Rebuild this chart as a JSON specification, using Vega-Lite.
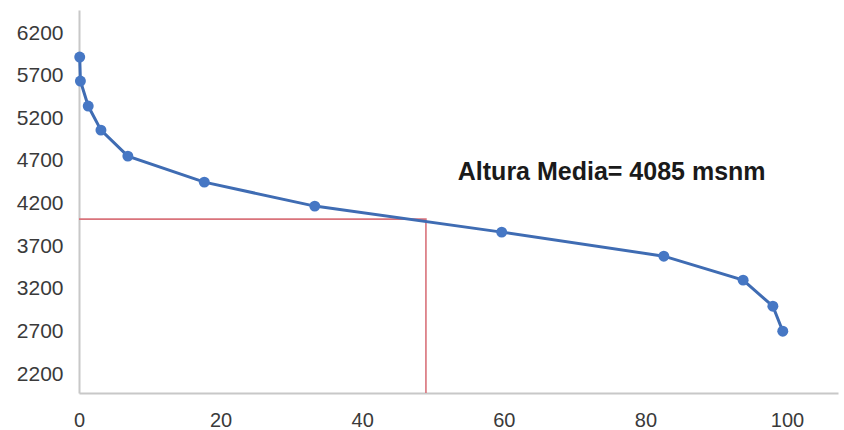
{
  "$schema": "https://vega.github.io/schema/vega-lite/v6.json",
  "width": 759,
  "height": 383,
  "autosize": "none",
  "padding": {"left": 79, "top": 10, "right": 6, "bottom": 37},
  "background": "white",
  "config": {
    "view": {"stroke": null},
    "font": "Liberation Sans",
    "axis": {"grid": false, "ticks": false, "domainColor": "#c8c8c8", "domainWidth": 2, "labelColor": "#3a3a3a", "labelFont": "Liberation Sans", "labelFontSize": 20, "title": null, "format": "d"}
  },
  "datasets": {
    "curve": [
      {"pct": 0.1, "alt": 5918},
      {"pct": 0.2, "alt": 5637},
      {"pct": 1.3, "alt": 5344},
      {"pct": 3.1, "alt": 5062},
      {"pct": 6.9, "alt": 4757},
      {"pct": 17.7, "alt": 4452},
      {"pct": 33.3, "alt": 4171},
      {"pct": 59.7, "alt": 3866},
      {"pct": 82.6, "alt": 3584},
      {"pct": 93.8, "alt": 3303},
      {"pct": 98.0, "alt": 2998},
      {"pct": 99.4, "alt": 2704}
    ],
    "media": [
      {"pct": 0, "alt": 4018, "ord": 1},
      {"pct": 49.0, "alt": 4018, "ord": 2},
      {"pct": 49.0, "alt": 1980, "ord": 3}
    ],
    "label": [
      {"pct": 53.5, "alt": 4570, "text": "Altura Media= 4085 msnm"}
    ]
  },
  "layer": [
    {
      "data": {"name": "media"},
      "mark": {"type": "line", "color": "#d9737b", "strokeWidth": 1.6},
      "encoding": {
        "x": {"field": "pct", "type": "quantitative", "scale": {"domain": [0, 107.2], "nice": false, "zero": false},
              "axis": {"values": [0, 20, 40, 60, 80, 100], "labelPadding": 17, "labelFlush": false}},
        "y": {"field": "alt", "type": "quantitative", "scale": {"domain": [1980, 6470], "nice": false, "zero": false},
              "axis": {"values": [2200, 2700, 3200, 3700, 4200, 4700, 5200, 5700, 6200], "labelPadding": 16, "labelFontSize": 21}},
        "order": {"field": "ord"}
      }
    },
    {
      "data": {"name": "curve"},
      "mark": {"type": "line", "color": "#3f6cb3", "strokeWidth": 3, "point": {"filled": true, "size": 120, "color": "#4677c4"}},
      "encoding": {
        "x": {"field": "pct", "type": "quantitative"},
        "y": {"field": "alt", "type": "quantitative"}
      }
    },
    {
      "data": {"name": "label"},
      "mark": {"type": "text", "align": "left", "baseline": "middle", "fontSize": 25, "fontWeight": "bold", "color": "#1a1a1a", "font": "Liberation Sans"},
      "encoding": {
        "x": {"field": "pct", "type": "quantitative"},
        "y": {"field": "alt", "type": "quantitative"},
        "text": {"field": "text"}
      }
    }
  ]
}
